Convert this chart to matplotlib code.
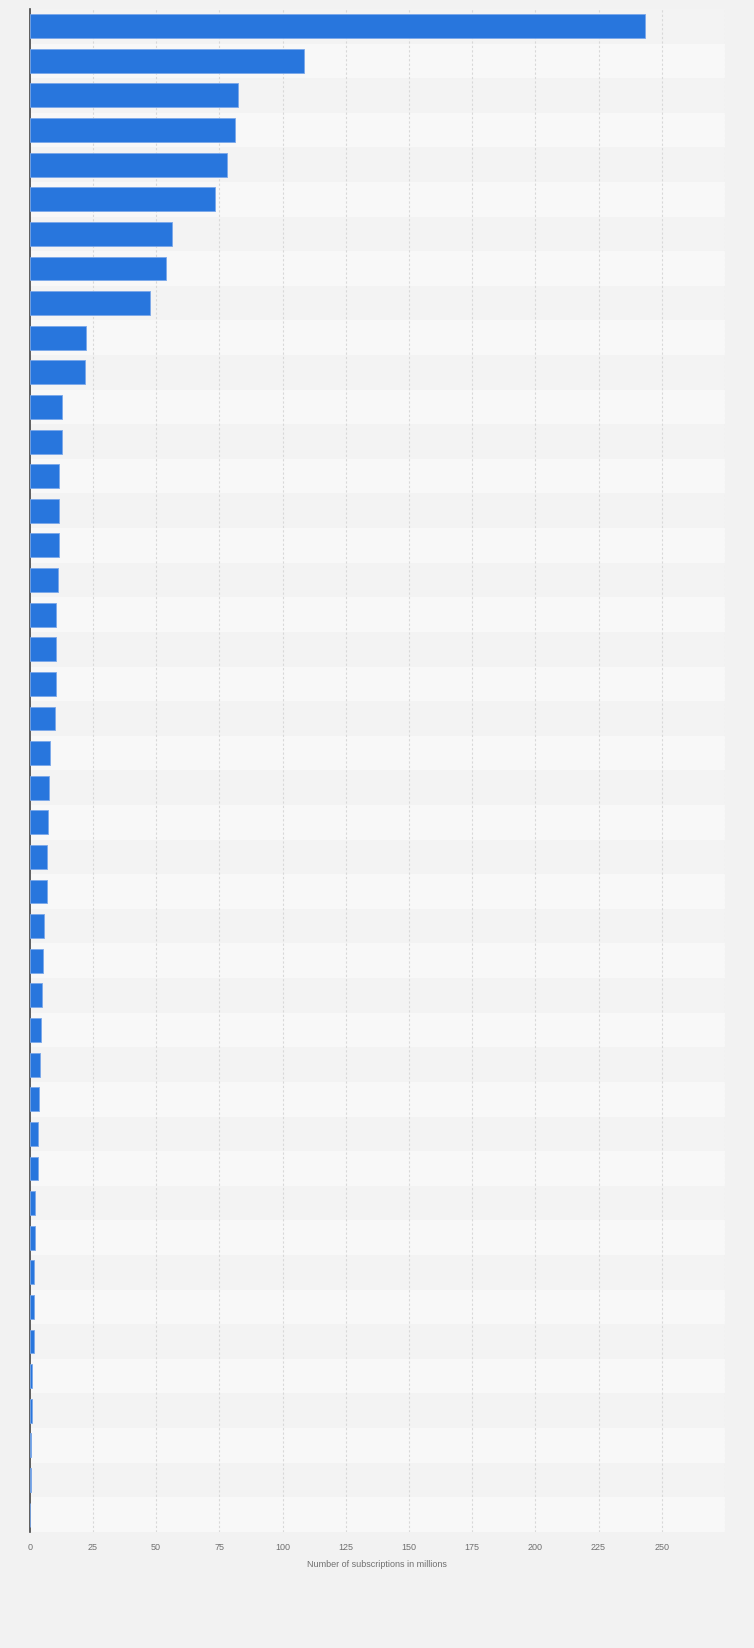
import matplotlib.pyplot as plt
import numpy as np

# values, top to bottom (millions of subscriptions)
values = [243.3, 108.6, 82.4, 81.2, 78.0, 73.3, 56.1, 54.1, 47.6,
          22.4, 22.0, 12.9, 12.9, 11.7, 11.7, 11.7, 11.3, 10.5, 10.5, 10.5, 10.1,
          8.1, 7.7, 7.3, 6.9, 6.9, 5.7, 5.2, 4.9, 4.5, 4.1, 3.7,
          3.3, 3.3, 2.1, 2.1, 1.6, 1.6, 1.6, 0.9, 0.9, 0.6, 0.5, 0.0]
x_ticks = [0, 25, 50, 75, 100, 125, 150, 175, 200, 225, 250]
x_label = 'Number of subscriptions in millions'

plt.rcParams['font.family'] = ['Liberation Sans', 'DejaVu Sans']

fig = plt.figure(figsize=(7.54, 16.49), dpi=100, facecolor='#f2f2f2')
ax = fig.add_axes([0.0394, 0.0704, 0.9221, 0.9236])
ax.set_facecolor('#f2f2f2')

n = len(values)
pos = np.arange(n)

# alternating row bands
for i in range(n):
    c = '#f3f3f3' if i % 2 == 0 else '#f8f8f8'
    ax.axhspan(i - 0.5, i + 0.5, color=c, zorder=0, lw=0)

# dashed vertical grid
for g in x_ticks[1:] + [275]:
    ax.axvline(g, color='#d8d8d8', lw=0.8, ls=(0, (2, 2)), zorder=1)

ax.barh(pos, values, height=0.69, color='#2876dd', edgecolor='#7aa8ea',
        linewidth=0.6, zorder=2)

ax.set_ylim(n - 0.5, -0.5)
ax.set_xlim(0, 275)
ax.set_yticks([])
ax.set_xticks(x_ticks)
ax.set_xticklabels([str(t) for t in x_ticks])
ax.tick_params(axis='x', length=0, pad=7, labelsize=6.5, labelcolor='#707070')
ax.set_xlabel(x_label, fontsize=6.5, color='#707070', labelpad=6)

for s in ['top', 'right', 'bottom']:
    ax.spines[s].set_visible(False)
ax.spines['left'].set_color('#444444')
ax.spines['left'].set_linewidth(1.2)
ax.spines['left'].set_zorder(1.5)

plt.savefig('out.png', dpi=100, facecolor=fig.get_facecolor())
